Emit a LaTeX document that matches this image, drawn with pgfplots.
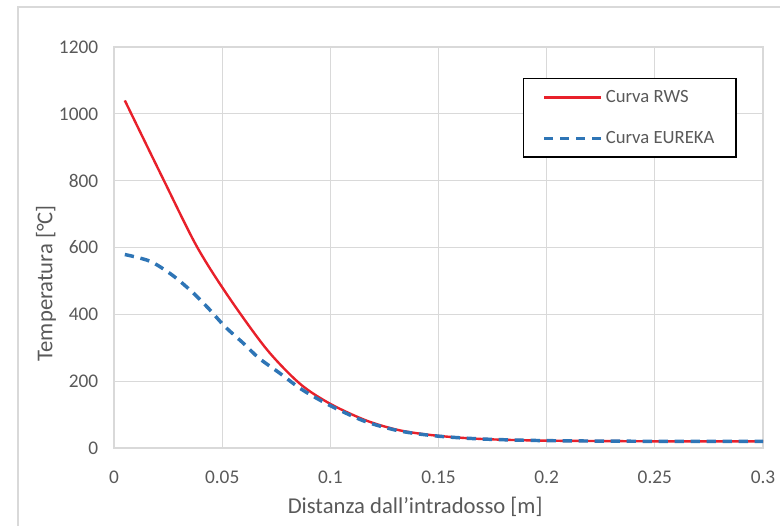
\documentclass[border=0pt]{standalone}
\usepackage{pgfplots}
\pgfplotsset{compat=1.18}
\usepackage{fontspec}
\setmainfont{Carlito}
\definecolor{rwsred}{RGB}{232,32,42}
\definecolor{eublue}{RGB}{46,117,182}
\definecolor{gridgray}{RGB}{217,217,217}
\definecolor{txtgray}{RGB}{89,89,89}
\begin{document}
\fontsize{14}{17}\selectfont
\begin{tikzpicture}
\begin{axis}[
  at={(0,0)}, anchor=south west,
  scale only axis,
  width=486.75pt, height=300.75pt,
  xmin=0, xmax=0.3, ymin=0, ymax=1200,
  xtick={0,0.05,0.1,0.15,0.2,0.25,0.3},
  ytick={0,200,400,600,800,1000,1200},
  xticklabels={0,0.05,0.1,0.15,0.2,0.25,0.3},
  /pgf/number format/1000 sep={},
  grid=major,
  grid style={draw=gridgray, line width=0.8pt},
  axis line style={draw=gridgray, line width=0.8pt},
  major tick length=0pt,
  tick label style={font=\fontsize{14.5}{17}\selectfont, text=txtgray},
  /pgf/number format/assume math mode=true,
  yticklabel style={xshift=-7pt},
  xticklabel style={yshift=-12pt},
  xlabel={Distanza dall'intradosso [m]},
  label style={font=\fontsize{17}{20}\selectfont, text=txtgray},
  xlabel style={at={(rel axis cs:0.464,0)}, anchor=center, yshift=-44pt},
  legend style={at={(rel axis cs:0.630,0.923)}, anchor=north west, draw=black, line width=1.2pt,
    inner xsep=14pt, inner ysep=6.5pt, row sep=15.5pt,
    font=\fontsize{14}{17}\selectfont, text=txtgray},
  legend cell align=left,
  legend image code/.code={\draw[#1] (0pt,0pt) -- (43pt,0pt);},
  clip=false,
]
\addplot[rwsred, line width=1.8pt, smooth, tension=0.5] coordinates {
(0.005,1040) (0.0228,804) (0.0382,604) (0.0528,454)
(0.0705,296) (0.086,192) (0.1,132) (0.1167,82) (0.132,53) (0.149,37) (0.17,27)
(0.2,22) (0.25,20) (0.3,20)
};
\addlegendentry{Curva RWS}
\addplot[eublue, line width=2.6pt, dash pattern=on 7pt off 5pt, smooth, tension=0.5] coordinates {
(0.005,579) (0.0166,559) (0.0266,519) (0.0358,469) (0.0435,419) (0.0512,364)
(0.0597,314) (0.067,269) (0.0766,224) (0.0859,179) (0.095,144) (0.104,114)
(0.1167,78) (0.132,51) (0.149,36) (0.17,27) (0.2,22) (0.25,20) (0.3,20)
};
\addlegendentry{Curva EUREKA}
\path (rel axis cs:0,0.411) ++(-51pt,0pt) node[rotate=90, anchor=center, text=txtgray, font=\fontsize{17}{20}\selectfont] {Temperatura [°C]};
\end{axis}
\draw[gridgray, line width=1pt] (-72pt,-70pt) -- (-72pt,330.75pt) -- (510pt,330.75pt);
\pgfresetboundingbox
\useasboundingbox (-85.5pt,-57.75pt) rectangle (499.5pt,336pt);
\end{tikzpicture}
\end{document}
